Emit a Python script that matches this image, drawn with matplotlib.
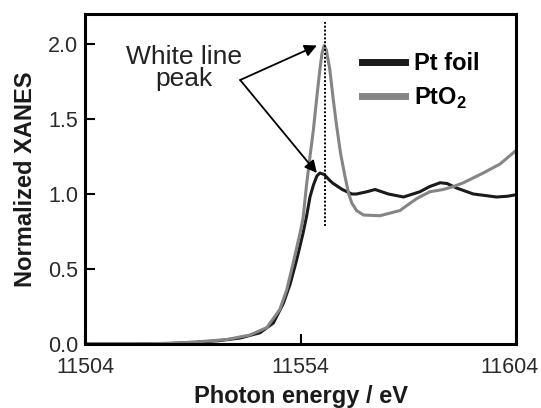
import matplotlib
matplotlib.use("Agg")
import matplotlib.pyplot as plt
from matplotlib.transforms import ScaledTranslation

plt.rcParams['font.family'] = ['Liberation Sans', 'DejaVu Sans']
plt.rcParams['mathtext.fontset'] = 'custom'
plt.rcParams['mathtext.rm'] = 'Liberation Sans'
plt.rcParams['mathtext.bf'] = 'Liberation Sans:bold'

# Pt L3-edge XANES
energy_foil = [11504, 11515, 11524, 11530, 11535, 11540, 11544.6, 11547.7, 11550,
               11551.6, 11553.1, 11554.6, 11555.4, 11556.2, 11557, 11557.8, 11558.5,
               11559.5, 11560.8, 11561.6, 11563.7, 11565.9, 11567, 11569.4, 11571.3,
               11574.4, 11577.9, 11581.7, 11584, 11586.4, 11588, 11590.2, 11594.1,
               11599.5, 11602, 11604]
xanes_foil = [0.0, 0.0, 0.004, 0.012, 0.022, 0.04, 0.075, 0.14, 0.27,
              0.40, 0.56, 0.74, 0.85, 0.98, 1.06, 1.12, 1.14,
              1.13, 1.09, 1.07, 1.03, 1.0, 1.0, 1.015, 1.03,
              1.0, 0.98, 1.015, 1.05, 1.075, 1.07, 1.04, 1.0,
              0.98, 0.985, 0.995]

energy_pto2 = [11504, 11515, 11524, 11530, 11536.9, 11542.3, 11546.2, 11549.2, 11550.8,
               11552.3, 11553.9, 11554.6, 11555.4, 11556.2, 11557, 11557.8, 11558.5,
               11559, 11559.5, 11560, 11560.8, 11561.6, 11562.4, 11563.3, 11564.3,
               11565.2, 11565.9, 11567, 11568.6, 11572.4, 11577.1, 11579, 11581,
               11584, 11587.1, 11589.5, 11591.8, 11596.4, 11600.3, 11604]
xanes_pto2 = [0.0, 0.0, 0.005, 0.014, 0.03, 0.06, 0.11, 0.23, 0.36,
              0.54, 0.74, 0.84, 1.06, 1.25, 1.43, 1.65, 1.83,
              1.94, 1.99, 1.96, 1.83, 1.63, 1.45, 1.27, 1.12,
              1.0, 0.94, 0.89, 0.86, 0.855, 0.89, 0.93, 0.97,
              1.015, 1.03, 1.05, 1.075, 1.14, 1.2, 1.29]

x_ticks = [11504, 11554, 11604]
y_ticks = [0.0, 0.5, 1.0, 1.5, 2.0]
peak_energy = 11559.7

fig = plt.figure(figsize=(5.41, 4.08), dpi=100)
ax = fig.add_axes([85 / 541, 1 - 344 / 408, 431 / 541, 330 / 408])

ax.plot(energy_foil, xanes_foil, color="#1a1a1a", lw=2.2, label="Pt foil")
ax.plot(energy_pto2, xanes_pto2, color="#858585", lw=2.2, label=r"PtO$_\mathbf{2}$")
ax.plot([peak_energy, peak_energy], [0.79, 2.15], color="black", lw=1.4, ls=(0, (1, 1)))

ax.set_xlim(11504, 11604)
ax.set_ylim(0, 2.2)
ax.set_xticks(x_ticks)
ax.set_yticks(y_ticks)
ax.set_yticklabels([f"{v:.1f}" for v in y_ticks])
ax.tick_params(direction="in", length=7, width=1.5, labelsize=15.5, pad=5, labelcolor="#2a2a2a")
ax.tick_params(axis="x", pad=9.5)
for s in ax.spines.values():
    s.set_linewidth(2.2)

# last x label sits a bit to the left so it stays in the figure
lab = ax.get_xticklabels()[-1]
lab.set_transform(lab.get_transform() + ScaledTranslation(-7 / 100, 0, fig.dpi_scale_trans))

ax.set_xlabel("Photon energy / eV", fontsize=17, fontweight="bold", labelpad=5, color="#1a1a1a")
ax.set_ylabel("Normalized XANES", fontsize=17, fontweight="bold", labelpad=8, color="#1a1a1a")

ax.text(11526.9, 1.84, "White line\npeak", fontsize=19, ha="center", va="center",
        linespacing=0.92, color="#222222")
for tx, ty in [(11557.8, 1.99), (11557.8, 1.14)]:
    ax.annotate("", xy=(tx, ty), xytext=(11540, 1.76),
                arrowprops=dict(arrowstyle="-|>", color="black", lw=1.3,
                                mutation_scale=18, shrinkA=0, shrinkB=0))

leg = ax.legend(loc="upper left", bbox_to_anchor=(0.643, 0.885), frameon=False,
                prop={"size": 17, "weight": "bold"}, handlelength=1.8,
                handletextpad=0.4, labelspacing=0.45, borderpad=0, borderaxespad=0)
for line in leg.get_lines():
    line.set_linewidth(5)

fig.savefig("out.png", dpi=100)
